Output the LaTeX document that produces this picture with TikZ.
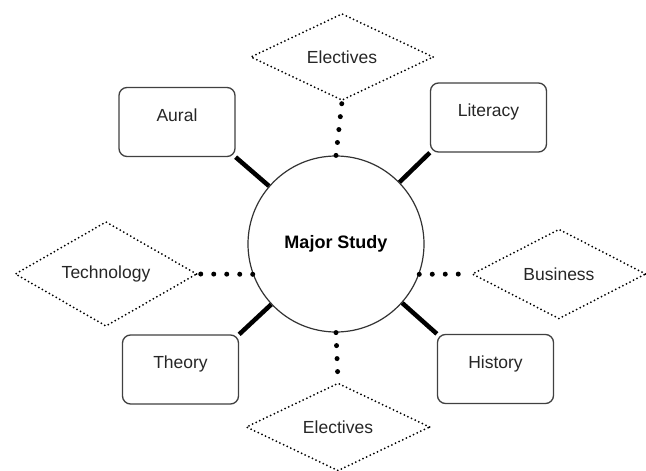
\documentclass[tikz,border=0pt]{standalone}
\usepackage{fontspec}
\setmainfont{Liberation Sans}
\usetikzlibrary{shapes.geometric}
\tikzset{
  txt/.style={font=\fontsize{17.5}{20}\selectfont, text=black!85},
  subj/.style={txt, draw=black!75, line width=1.3pt, rounded corners=8pt, minimum width=116pt, minimum height=69pt, text height=9pt, text depth=11pt, fill=white},
  opt/.style={txt, diamond, draw=black, line width=2pt, dash pattern=on 0pt off 4pt, line cap=round, inner sep=0pt, fill=white},
  core/.style={circle, draw=black!80, line width=1.2pt, minimum size=176pt, inner sep=0pt, font=\bfseries\fontsize{18}{20}\selectfont},
  solidlink/.style={line width=4.5pt, black},
  dotlink/.style={line width=5pt, dash pattern=on 0pt off 13pt, line cap=round, black},
}
\begin{document}
\begin{tikzpicture}[x=1pt,y=-1pt]
\useasboundingbox (0,0) rectangle (646,471);
\node[core] (ms) at (336,244) {Major Study};
\node[subj] (aural) at (177,122) {Aural};
\node[subj] (lit) at (488.5,117.5) {Literacy};
\node[subj] (theory) at (180.5,369.5) {Theory};
\node[subj] (hist) at (495.5,369) {History};
\node[opt, minimum width=183pt, minimum height=87pt] (etop) at (342,57) {Electives};
\node[opt, minimum width=184pt, minimum height=88pt] (ebot) at (338,427) {Electives};
\node[opt, minimum width=182pt, minimum height=90pt] (tech) at (106,274) {Technology};
\node[opt, minimum width=174pt, minimum height=90pt] (bus) at (559,274) {Business};
\draw[solidlink] (aural.south east) -- (ms);
\draw[solidlink] (lit.south west) -- (ms);
\draw[solidlink] (theory.north east) -- (ms);
\draw[solidlink] (hist.north west) -- (ms);
\draw[dotlink] (ms.north) -- (etop.south);
\draw[dotlink] (ms.south) -- (ebot.north);
\draw[dotlink] (ms.200) -- (tech.east);
\draw[dotlink] (ms.-20) -- (bus.west);
\end{tikzpicture}
\end{document}
